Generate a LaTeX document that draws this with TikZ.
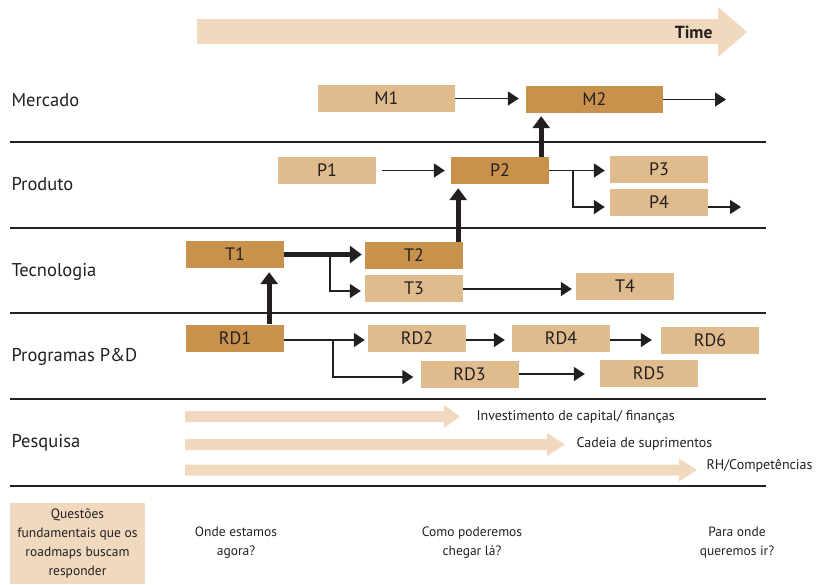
\documentclass[tikz,border=0pt]{standalone}
\usepackage{fontspec}
\setmainfont{PT Sans}
\usetikzlibrary{positioning,arrows.meta}

\definecolor{boxlight}{RGB}{224,187,141}
\definecolor{boxdark}{RGB}{200,145,76}
\definecolor{band}{RGB}{240,217,190}
\definecolor{ink}{RGB}{35,31,32}

\tikzset{
  plain/.style={rectangle,fill=boxlight,minimum width=98pt,minimum height=27pt,inner sep=0pt,text=ink,font=\fontsize{18}{20}\selectfont},
  key/.style={plain,fill=boxdark},
  flow/.style={draw=ink,line width=1.6pt,-{Triangle[length=11pt,width=14pt]},shorten >=5pt},
  push/.style={draw=ink,line width=4.6pt,-{Triangle[length=12pt,width=17pt]},shorten >=4pt},
  layer/.style={anchor=base west,text=ink,font=\fontsize{18.5}{20}\selectfont},
  note/.style={anchor=west,text=ink,font=\fontsize{14}{16}\selectfont},
  question/.style={align=center,text=ink,font=\fontsize{13.5}{19}\selectfont},
  sep/.style={draw=ink,line width=2.6pt}
}

\begin{document}
\begin{tikzpicture}[x=1pt,y=-1pt]
  \useasboundingbox (0,0) rectangle (819,584);

  % time arrow
  \fill[band] (197,19) -- (718,19) -- (718,7) -- (747,32) -- (718,57) -- (718,44) -- (197,44) -- cycle;
  \node[anchor=east,text=ink,font=\fontsize{17.5}{20}\selectfont\bfseries] (time) at (716,32) {Time};

  % layers
  \node[layer] (mercado) at (8,106) {Mercado};
  \node[layer] (produto) at (8,190) {Produto};
  \node[layer] (tecnologia) at (8,276) {Tecnologia};
  \node[layer] (programas) at (8,361) {Programas P\&D};
  \node[layer] (pesquisa) at (8,447) {Pesquisa};

  \draw[sep] (10,142) -- (766,142);
  \draw[sep] (10,228) -- (766,228);
  \draw[sep] (10,313) -- (766,313);
  \draw[sep] (10,399) -- (766,399);
  \draw[sep] (10,486) -- (766,486);

  % mercado
  \node[plain,minimum width=137pt] (m1) at (386.5,98.5) {M1};
  \node[key,minimum width=137pt] (m2) at (594.5,99.5) {M2};
  \coordinate (m2out) at (731,99.5);

  % produto
  \node[plain] (p1) at (327,170.5) {P1};
  \node[key] (p2) at (500,170.5) {P2};
  \node[plain] (p3) at (659,169.5) {P3};
  \node[plain] (p4) at (659,202.5) {P4};
  \coordinate (p4out) at (741,207);

  % tecnologia
  \node[key] (t1) at (235,254.5) {T1};
  \node[key] (t2) at (414,255.5) {T2};
  \node[plain] (t3) at (414,288) {T3};
  \node[plain] (t4) at (625,286.5) {T4};

  % programas
  \node[key] (rd1) at (235,338) {RD1};
  \node[plain] (rd2) at (417,338) {RD2};
  \node[plain] (rd3) at (469.5,374) {RD3};
  \node[plain] (rd4) at (561,338) {RD4};
  \node[plain] (rd5) at (649,373.5) {RD5};
  \node[plain] (rd6) at (710,340.5) {RD6};

  % connectors
  \draw[flow,shorten >=7pt] (m1.east) -- (m1.east -| m2.west);
  \draw[flow] (m2.east) -- (m2out);
  \draw[flow,shorten <=6pt,shorten >=6pt] (p1.east) -- (p2.west);
  \draw[flow] (p2.east) -- (p2.east -| p3.west);
  \draw[flow] ([xshift=24pt]p2.east) |- ([yshift=-4.5pt]p4.west);
  \draw[flow,shorten >=0pt] ([yshift=-4.5pt]p4.east) -- (p4out);
  \draw[push,shorten >=3pt] (t1.east) -- (t1.east -| t2.west);
  \draw[flow,shorten >=4pt] ([xshift=46pt]t1.east) |- ([yshift=-3pt]t3.west);
  \draw[flow,shorten >=4pt] ([yshift=-1pt]t3.east) -- ([yshift=-1pt]t3.east -| t4.west);
  \draw[flow,shorten >=3pt] ([yshift=-2pt]rd1.east) -- ([yshift=-2pt]rd1.east -| rd2.west);
  \draw[flow,shorten >=7pt] ([xshift=49pt,yshift=-2pt]rd1.east) |- ([yshift=-3pt]rd3.west);
  \draw[flow,shorten >=7pt] ([yshift=-2pt]rd2.east) -- ([yshift=-2pt]rd2.east -| rd4.west);
  \draw[flow,shorten >=9pt] ([yshift=-2pt]rd4.east) -- ([yshift=-2pt]rd4.east -| rd6.west);
  \draw[flow,shorten >=15pt] (rd3.east) -- (rd3.east -| rd5.west);
  \draw[push] ([xshift=-15pt]rd1.north east) -- ([xshift=-15pt]rd1.north east |- t1.south);
  \draw[push] ([xshift=-5pt]t2.north east) -- ([xshift=-5pt]t2.north east |- p2.south);
  \draw[push,shorten >=3pt] ([xshift=-8pt]p2.north east) -- ([xshift=-8pt]p2.north east |- m2.south);

  % pesquisa
  \fill[band] (185,411) -- (444,411) -- (444,405) -- (460,416.5) -- (444,428) -- (444,422) -- (185,422) -- cycle;
  \fill[band] (185,439) -- (547,439) -- (547,433) -- (565,444.5) -- (547,456) -- (547,450) -- (185,450) -- cycle;
  \fill[band] (185,464.5) -- (679,464.5) -- (679,458.5) -- (697,470) -- (679,481.5) -- (679,475.5) -- (185,475.5) -- cycle;
  \node[note] (capital) at (473,416.5) {Investimento de capital/ finanças};
  \node[note] (cadeia) at (573,443.5) {Cadeia de suprimentos};
  \node[note] (rh) at (703,465.5) {RH/Competências};

  % questions
  \node[question,fill=band,minimum width=135pt,minimum height=81pt,inner sep=0pt] (questoes) at (77.5,543.5) {Questões\\fundamentais que os\\roadmaps buscam\\responder};
  \node[question] (agora) at (236,543) {Onde estamos\\agora?};
  \node[question] (chegar) at (472,543) {Como poderemos\\chegar lá?};
  \node[question] (ir) at (737,543) {Para onde\\queremos ir?};
\end{tikzpicture}
\end{document}
